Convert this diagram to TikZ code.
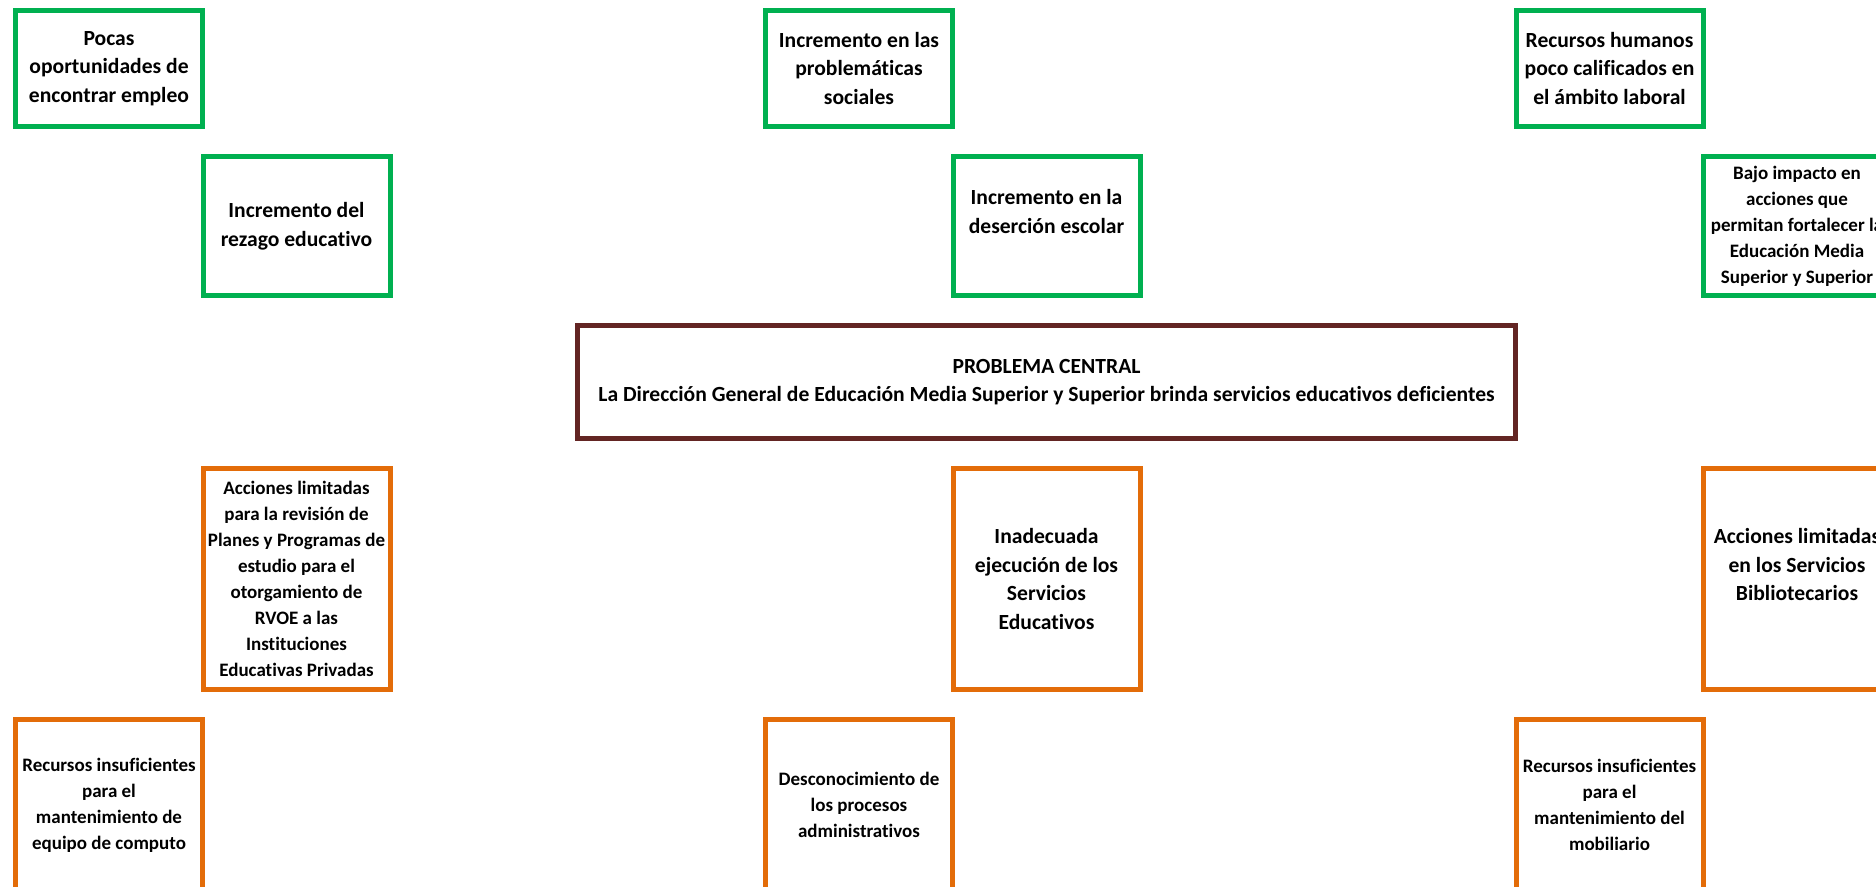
\documentclass[tikz,border=0pt]{standalone}
\usepackage{fontspec}
\setmainfont{Carlito}[Ligatures=NoCommon]
\RequirePackage{xcolor}
\usetikzlibrary{positioning}

\definecolor{verde}{HTML}{00B050}
\definecolor{naranja}{HTML}{E36C09}
\definecolor{vino}{HTML}{632523}

\tikzset{
  caja/.style={draw, line width=2.5pt, fill=white, align=center, inner sep=1pt,
    minimum width=93.5pt, font=\bfseries\fontsize{10.8pt}{14.3pt}\selectfont},
  chica/.style={font=\bfseries\fontsize{9.5pt}{13pt}\selectfont},
  efecto/.style={caja, draw=verde},
  causa/.style={caja, draw=naranja},
  central/.style={caja, draw=vino, minimum width=469pt, minimum height=56.5pt}
}

\begin{document}
\begin{tikzpicture}[x=0.5pt, y=-0.5pt]
  \useasboundingbox (0,0) rectangle (1876,887);
  \clip (0,0) rectangle (1876,887);

  \node [efecto, minimum height=58pt] (e1) at (109, 68.5) {Pocas\\oportunidades de\\encontrar empleo};
  \node [efecto, minimum height=58pt] (e2) at (859, 68.5) {Incremento en las\\problemáticas\\sociales};
  \node [efecto, minimum height=58pt] (e3) at (1609.5, 68.5) {Recursos humanos\\poco calificados en\\el ámbito laboral};

  \node [efecto, minimum height=69.5pt] (e4) at (296.5, 226) {Incremento del\\rezago educativo};
  \node [efecto, minimum height=69.5pt] (e5) at (1046.5, 226) {Incremento en la\\deserción escolar\\\mbox{}};
  \node [efecto, chica, minimum height=69.5pt] (e6) at (1797, 226) {Bajo impacto en\\acciones que\\permitan fortalecer la\\Educación Media\\Superior y Superior};

  \node [central] (p) at (1046.5, 382) {PROBLEMA CENTRAL\\La Dirección General de Educación Media Superior y Superior brinda servicios educativos deficientes};

  \node [causa, chica, minimum height=110.5pt] (c1) at (296.5, 579) {Acciones limitadas\\para la revisión de\\Planes y Programas de\\estudio para el\\otorgamiento de\\RVOE a las\\Instituciones\\Educativas Privadas};
  \node [causa, minimum height=110.5pt] (c2) at (1046.5, 579) {Inadecuada\\ejecución de los\\Servicios\\Educativos};
  \node [causa, minimum height=110.5pt] (c3) at (1797, 579) {Acciones limitadas\\en los Servicios\\Bibliotecarios\\\mbox{}};

  \node [causa, chica, minimum height=85.5pt] (c4) at (109, 805) {Recursos insuficientes\\para el\\mantenimiento de\\equipo de computo};
  \node [causa, chica, minimum height=85.5pt] (c5) at (859, 805) {Desconocimiento de\\los procesos\\administrativos};
  \node [causa, chica, minimum height=85.5pt] (c6) at (1609.5, 805) {Recursos insuficientes\\para el\\mantenimiento del\\mobiliario};
\end{tikzpicture}
\end{document}
